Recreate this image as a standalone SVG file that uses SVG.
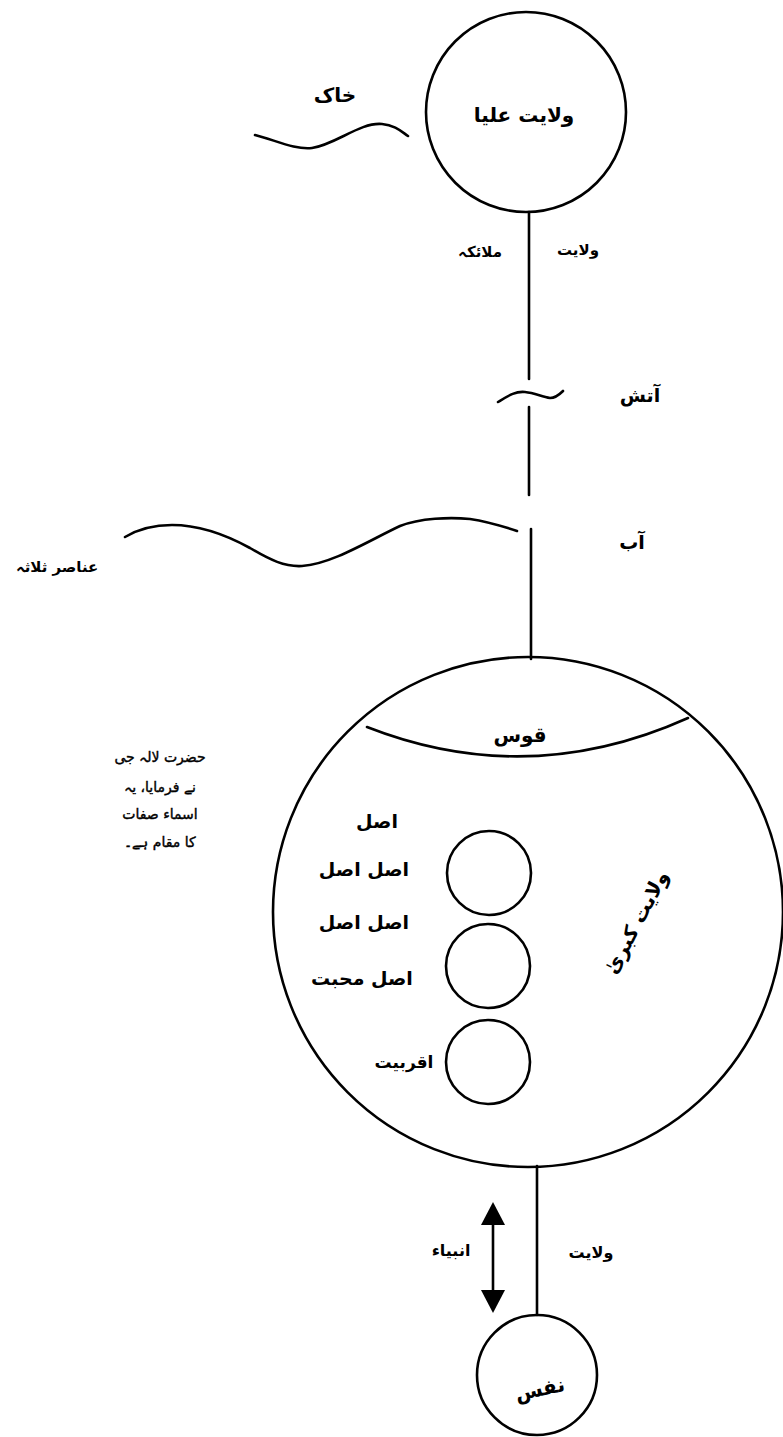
<svg xmlns="http://www.w3.org/2000/svg" width="783" height="1437" viewBox="0 0 783 1437">
<style>
.s{fill:none;stroke:#000;stroke-width:2.6;stroke-linecap:round}
.t{font-family:"DejaVu Sans",sans-serif;fill:#000;text-anchor:middle;font-weight:bold}
.n{font-family:"DejaVu Sans",sans-serif;fill:#000;text-anchor:middle;font-weight:normal;stroke:#000;stroke-width:0.4}
</style>
<rect width="783" height="1437" fill="#fff"/>
<g id="connectors">
<line class="s" x1="529" y1="212" x2="529" y2="379"/>
<line class="s" x1="529" y1="407" x2="529" y2="495"/>
<line class="s" x1="531" y1="529" x2="531" y2="659"/>
<line class="s" x1="537" y1="1166" x2="537" y2="1315"/>
<g id="arrow-anbiya">
<line class="s" x1="493" y1="1220" x2="493" y2="1295"/>
<polygon points="493,1202 481,1225 505,1225" fill="#000"/>
<polygon points="493,1313 481,1290 505,1290" fill="#000"/>
</g>
</g>
<g id="node-wilayat-ulya">
<circle class="s" cx="526" cy="112" r="100"/>
<text class="t" x="524" y="122" font-size="20">ولایت علیا</text>
</g>
<g id="node-khak">
<path class="s" d="M255,135 C275,140 295,150 312,148 C335,145 360,122 382,124 C395,125 402,132 408,136"/>
<text class="t" x="335" y="102" font-size="20">خاک</text>
</g>
<g id="labels-malaika">
<text class="t" x="578" y="255" font-size="15">ولایت</text>
<text class="t" x="480" y="257" font-size="15">ملائکہ</text>
</g>
<g id="node-atish">
<path class="s" d="M498,402 C508,396 515,391 525,392 C535,393 542,397 550,398 C556,398 560,394 563,391"/>
<text class="t" x="640" y="402" font-size="19">آتش</text>
</g>
<g id="node-aab">
<path class="s" d="M125,537 C140,528 155,525 172,525 C202,525 230,537 250,548 C270,560 285,567 302,566 C332,564 370,540 400,526 C420,518 450,517 470,519 C490,522 505,527 517,531"/>
<text class="t" x="632" y="549" font-size="19">آب</text>
<text class="t" x="57" y="572" font-size="15">عناصر ثلاثہ</text>
</g>
<g id="node-wilayat-kubra">
<circle class="s" cx="528" cy="912" r="255"/>
<path class="s" d="M367,727 Q528,790 688,718"/>
<text class="t" x="520" y="742" font-size="20">قوس</text>
<text class="t" x="638" y="928" font-size="20" transform="rotate(-62 638 923)">ولایت کبریٰ</text>
</g>
<g id="node-circle-1">
<circle class="s" cx="489" cy="873" r="42"/>
</g>
<g id="node-circle-2">
<circle class="s" cx="488" cy="966" r="42"/>
</g>
<g id="node-circle-3">
<circle class="s" cx="488" cy="1062" r="42"/>
</g>
<g id="labels-asl">
<text class="t" x="377" y="828" font-size="19">اصل</text>
<text class="t" x="364" y="876" font-size="19">اصل اصل</text>
<text class="t" x="364" y="929" font-size="19">اصل اصل</text>
<text class="t" x="362" y="985" font-size="19">اصل محبت</text>
<text class="t" x="404" y="1068" font-size="17">اقربیت</text>
</g>
<g id="note-lalaji">
<text class="n" x="160" y="762" font-size="14">حضرت لال‍ہ جی</text>
<text class="n" x="160" y="792" font-size="14">نے فرمایا، یہ</text>
<text class="n" x="160" y="819" font-size="14">اسماء صفات</text>
<text class="n" x="160" y="847" font-size="14">کا مقام ہے۔</text>
</g>
<g id="node-nafs">
<circle class="s" cx="537" cy="1375" r="60"/>
<text class="t" x="540" y="1396" font-size="20" transform="rotate(-12 540 1390)">نفس</text>
</g>
<g id="labels-bottom">
<text class="t" x="451" y="1256" font-size="16">انبیاء</text>
<text class="t" x="591" y="1258" font-size="16">ولایت</text>
</g>
</svg>
